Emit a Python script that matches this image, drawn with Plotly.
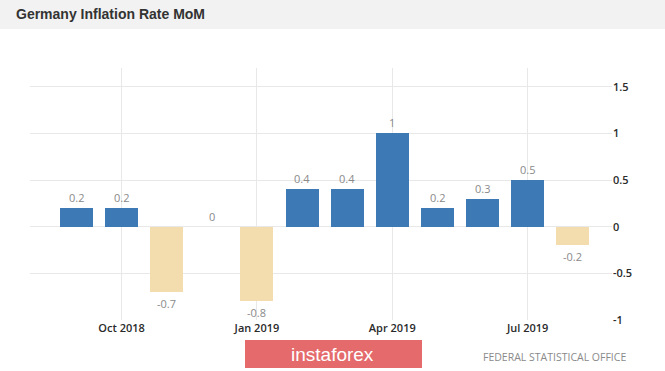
import plotly.graph_objects as go

# ---- data ----
months = ["Sep 2018", "Oct 2018", "Nov 2018", "Dec 2018", "Jan 2019", "Feb 2019",
          "Mar 2019", "Apr 2019", "May 2019", "Jun 2019", "Jul 2019", "Aug 2019"]
values = [0.2, 0.2, -0.7, 0, -0.8, 0.4, 0.4, 1, 0.2, 0.3, 0.5, -0.2]
label_text = ["0.2", "0.2", "-0.7", "0", "-0.8", "0.4", "0.4", "1", "0.2", "0.3", "0.5", "-0.2"]
x_tick_labels = ["Oct 2018", "Jan 2019", "Apr 2019", "Jul 2019"]
y_ticks = [-1, -0.5, 0, 0.5, 1, 1.5]
y_tick_labels = ["-1", "-0.5", "0", "0.5", "1", "1.5"]

BLUE = "#3d7ab5"
TAN = "#f3dcae"

xs = list(range(len(months)))
bar_colors = [BLUE if v >= 0 else TAN for v in values]
tick_idx = [months.index(m) for m in x_tick_labels]

W, H = 665, 371

fig = go.Figure()
fig.add_trace(go.Bar(
    x=xs, y=values, marker=dict(color=bar_colors, line=dict(width=0)),
    width=0.73, hoverinfo="skip",
))

value_labels = [
    dict(x=x, y=v, xref="x", yref="y", text=t, showarrow=False,
         xanchor="center", yanchor="middle", yshift=(10.5 if v >= 0 else -11),
         font=dict(family="Open Sans, sans-serif", size=11, color="#8a8a8a"))
    for x, v, t in zip(xs, values, label_text)
]

tick_font = dict(family="Open Sans, sans-serif", size=11, color="#2a2a2a", weight=600)

fig.update_layout(
    width=W, height=H,
    margin=dict(l=30, r=53, t=68, b=51),
    paper_bgcolor="white", plot_bgcolor="white",
    showlegend=False, bargap=0,
    xaxis=dict(
        range=[-1.03, 11.87], tickmode="array", tickvals=tick_idx, ticktext=x_tick_labels,
        showgrid=True, gridcolor="#e8e8e8", gridwidth=1, zeroline=False, showline=False,
        ticks="", tickfont=tick_font, fixedrange=True,
    ),
    yaxis=dict(
        range=[-1, 1.7], side="right", tickmode="array", tickvals=y_ticks, ticktext=y_tick_labels,
        showgrid=True, gridcolor="#e8e8e8", gridwidth=1, zeroline=False, showline=False,
        ticks="", tickfont=tick_font, fixedrange=True,
    ),
    shapes=[
        dict(type="rect", xref="paper", yref="paper", x0=-30/582, x1=1 + 53/582,
             y0=1 + (68 - 29)/252, y1=1 + 68/252, fillcolor="#f2f2f2", line=dict(width=0),
             layer="below"),
        dict(type="rect", xref="paper", yref="paper",
             x0=(245 - 30)/582, x1=(422 - 30)/582,
             y0=-(368 - 320)/252, y1=-(340 - 320)/252,
             fillcolor="#e46a6c", line=dict(width=0), layer="above"),
    ],
    annotations=value_labels + [
        dict(text="<b>Germany Inflation Rate MoM</b>", xref="paper", yref="paper",
             x=(14 - 30)/582, y=1 + (68 - 14)/252, xanchor="left", yanchor="middle",
             showarrow=False,
             font=dict(family="Liberation Sans, Arial, sans-serif", size=14, color="#333333")),
        dict(text="instaforex", xref="paper", yref="paper",
             x=(332 - 30)/582, y=-(354 - 320)/252, xanchor="center", yanchor="middle",
             showarrow=False,
             font=dict(family="Liberation Sans, Arial, sans-serif", size=19, color="white")),
        dict(text="FEDERAL STATISTICAL OFFICE", xref="paper", yref="paper",
             x=(628 - 30)/582, y=-(357 - 320)/252, xanchor="right", yanchor="middle",
             showarrow=False,
             font=dict(family="Open Sans, sans-serif", size=10.5, color="#8a8a8a")),
    ],
)

fig.write_html("out.html", config={"displayModeBar": False},
               post_script="document.body.style.margin='0';document.body.style.overflow='hidden';")
